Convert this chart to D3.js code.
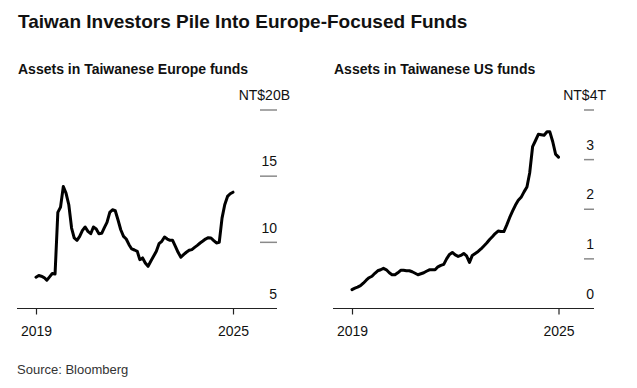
<!DOCTYPE html>
<html>
<head>
<meta charset="utf-8">
<script src="https://cdn.jsdelivr.net/npm/d3@7"></script>
<style>
  body { margin: 0; background: #fff; }
  svg { display: block; font-family: "Liberation Sans", Arial, sans-serif; }
</style>
</head>
<body>
<svg id="chart" width="637" height="388"></svg>
<script>
// ---- data (monthly, Jan 2019 .. Jan 2025) ----
const startMonth = "2019-01";
const europeValues = [7.36,7.49,7.44,7.34,7.14,7.39,7.64,7.6,12.26,12.66,14.22,13.72,12.84,11.08,10.33,10.15,10.45,10.9,11.16,10.83,10.65,11.16,11.01,10.65,10.68,11.13,11.51,12.26,12.46,12.39,11.71,10.95,10.45,10.25,9.82,9.5,9.42,9.32,8.69,8.82,8.44,8.19,8.57,8.94,9.32,9.9,10.08,10.4,10.25,10.15,10.15,9.7,9.25,8.87,9.07,9.25,9.4,9.45,9.62,9.77,9.95,10.1,10.25,10.35,10.33,10.13,9.95,10.0,11.83,12.84,13.47,13.67,13.79];
const usValues = [0.38,0.41,0.43,0.46,0.51,0.57,0.62,0.65,0.71,0.76,0.78,0.81,0.78,0.72,0.68,0.68,0.72,0.77,0.77,0.76,0.76,0.74,0.71,0.68,0.7,0.72,0.75,0.78,0.78,0.78,0.84,0.87,0.89,1.0,1.09,1.13,1.08,1.05,1.07,1.11,1.06,0.93,1.07,1.11,1.15,1.2,1.26,1.32,1.39,1.45,1.51,1.56,1.55,1.55,1.68,1.83,1.96,2.08,2.18,2.24,2.35,2.45,2.73,3.26,3.38,3.51,3.5,3.49,3.56,3.56,3.36,3.11,3.05];
const xTickYears = ["2019", "2025"];
const europeTicks = [5, 10, 15, 20];
const europeTickLabels = ["5", "10", "15", "NT$20B"];
const usTicks = [0, 1, 2, 3, 4];
const usTickLabels = ["0", "1", "2", "3", "NT$4T"];
const titleText = "Taiwan Investors Pile Into Europe-Focused Funds";
const leftSubtitle = "Assets in Taiwanese Europe funds";
const rightSubtitle = "Assets in Taiwanese US funds";
const sourceText = "Source: Bloomberg";

const parseMonth = d3.timeParse("%Y-%m");
const parseYear = d3.timeParse("%Y");
const start = parseMonth(startMonth);
const toSeries = vals => vals.map((v, i) => ({ date: d3.timeMonth.offset(start, i), value: v }));

const svg = d3.select("#chart");

svg.append("text").attr("x", 18).attr("y", 28)
  .attr("font-size", 19).attr("font-weight", "bold").attr("fill", "#111")
  .text(titleText);

svg.append("text").attr("x", 17).attr("y", 374)
  .attr("font-size", 13).attr("fill", "#333")
  .text(sourceText);

function panel(cfg) {
  const g = svg.append("g");
  g.append("text").attr("x", cfg.subX).attr("y", 73.5)
    .attr("font-size", 14).attr("font-weight", "bold").attr("fill", "#111")
    .text(cfg.subtitle);

  const x = d3.scaleTime()
    .domain([parseYear(xTickYears[0]), parseYear(xTickYears[1])])
    .range([cfg.x0, cfg.x1]);
  const y = d3.scaleLinear()
    .domain([cfg.ticks[0], cfg.ticks[cfg.ticks.length - 1]])
    .range([308.5, 110]);

  // axis baseline
  g.append("line").attr("x1", cfg.axisL).attr("x2", cfg.axisR)
    .attr("y1", y(cfg.ticks[0])).attr("y2", y(cfg.ticks[0]))
    .attr("stroke", "#222").attr("stroke-width", 1.2);

  // x axis ticks
  const xAxis = d3.axisBottom(x)
    .tickValues(xTickYears.map(parseYear))
    .tickFormat(d3.timeFormat("%Y"))
    .tickSize(6).tickPadding(12);
  const xg = g.append("g").attr("transform", `translate(0,${y(cfg.ticks[0])})`).call(xAxis);
  xg.select(".domain").remove();
  xg.selectAll(".tick line").attr("stroke", "#222").attr("stroke-width", 1.2);
  xg.selectAll(".tick text").attr("font-size", 14).attr("fill", "#111")
    .attr("font-family", "\"Liberation Sans\", Arial, sans-serif");

  // y ticks: short grey marks on the right with labels above
  cfg.ticks.forEach((t, i) => {
    if (i > 0) {
      g.append("line").attr("x1", cfg.tickL).attr("x2", cfg.axisR)
        .attr("y1", y(t)).attr("y2", y(t))
        .attr("stroke", "#8a8a8a").attr("stroke-width", 1.5);
    }
    const last = i === cfg.ticks.length - 1;
    g.append("text")
      .attr("x", last ? cfg.unitEnd : cfg.axisR)
      .attr("y", y(t) - 9.8)
      .attr("text-anchor", "end")
      .attr("font-size", 14).attr("fill", "#111")
      .text(cfg.labels[i]);
  });

  const line = d3.line().x(d => x(d.date)).y(d => y(d.value)).curve(d3.curveLinear);
  g.append("path").datum(toSeries(cfg.values))
    .attr("d", line).attr("fill", "none")
    .attr("stroke", "#000").attr("stroke-width", 3)
    .attr("stroke-linejoin", "round").attr("stroke-linecap", "round");
}

panel({ subtitle: leftSubtitle, subX: 18, x0: 36, x1: 233, axisL: 17, axisR: 277, tickL: 260,
        unitEnd: 290, ticks: europeTicks, labels: europeTickLabels, values: europeValues });
panel({ subtitle: rightSubtitle, subX: 334, x0: 352, x1: 558.5, axisL: 333, axisR: 594, tickL: 584,
        unitEnd: 606, ticks: usTicks, labels: usTickLabels, values: usValues });
</script>
</body>
</html>
